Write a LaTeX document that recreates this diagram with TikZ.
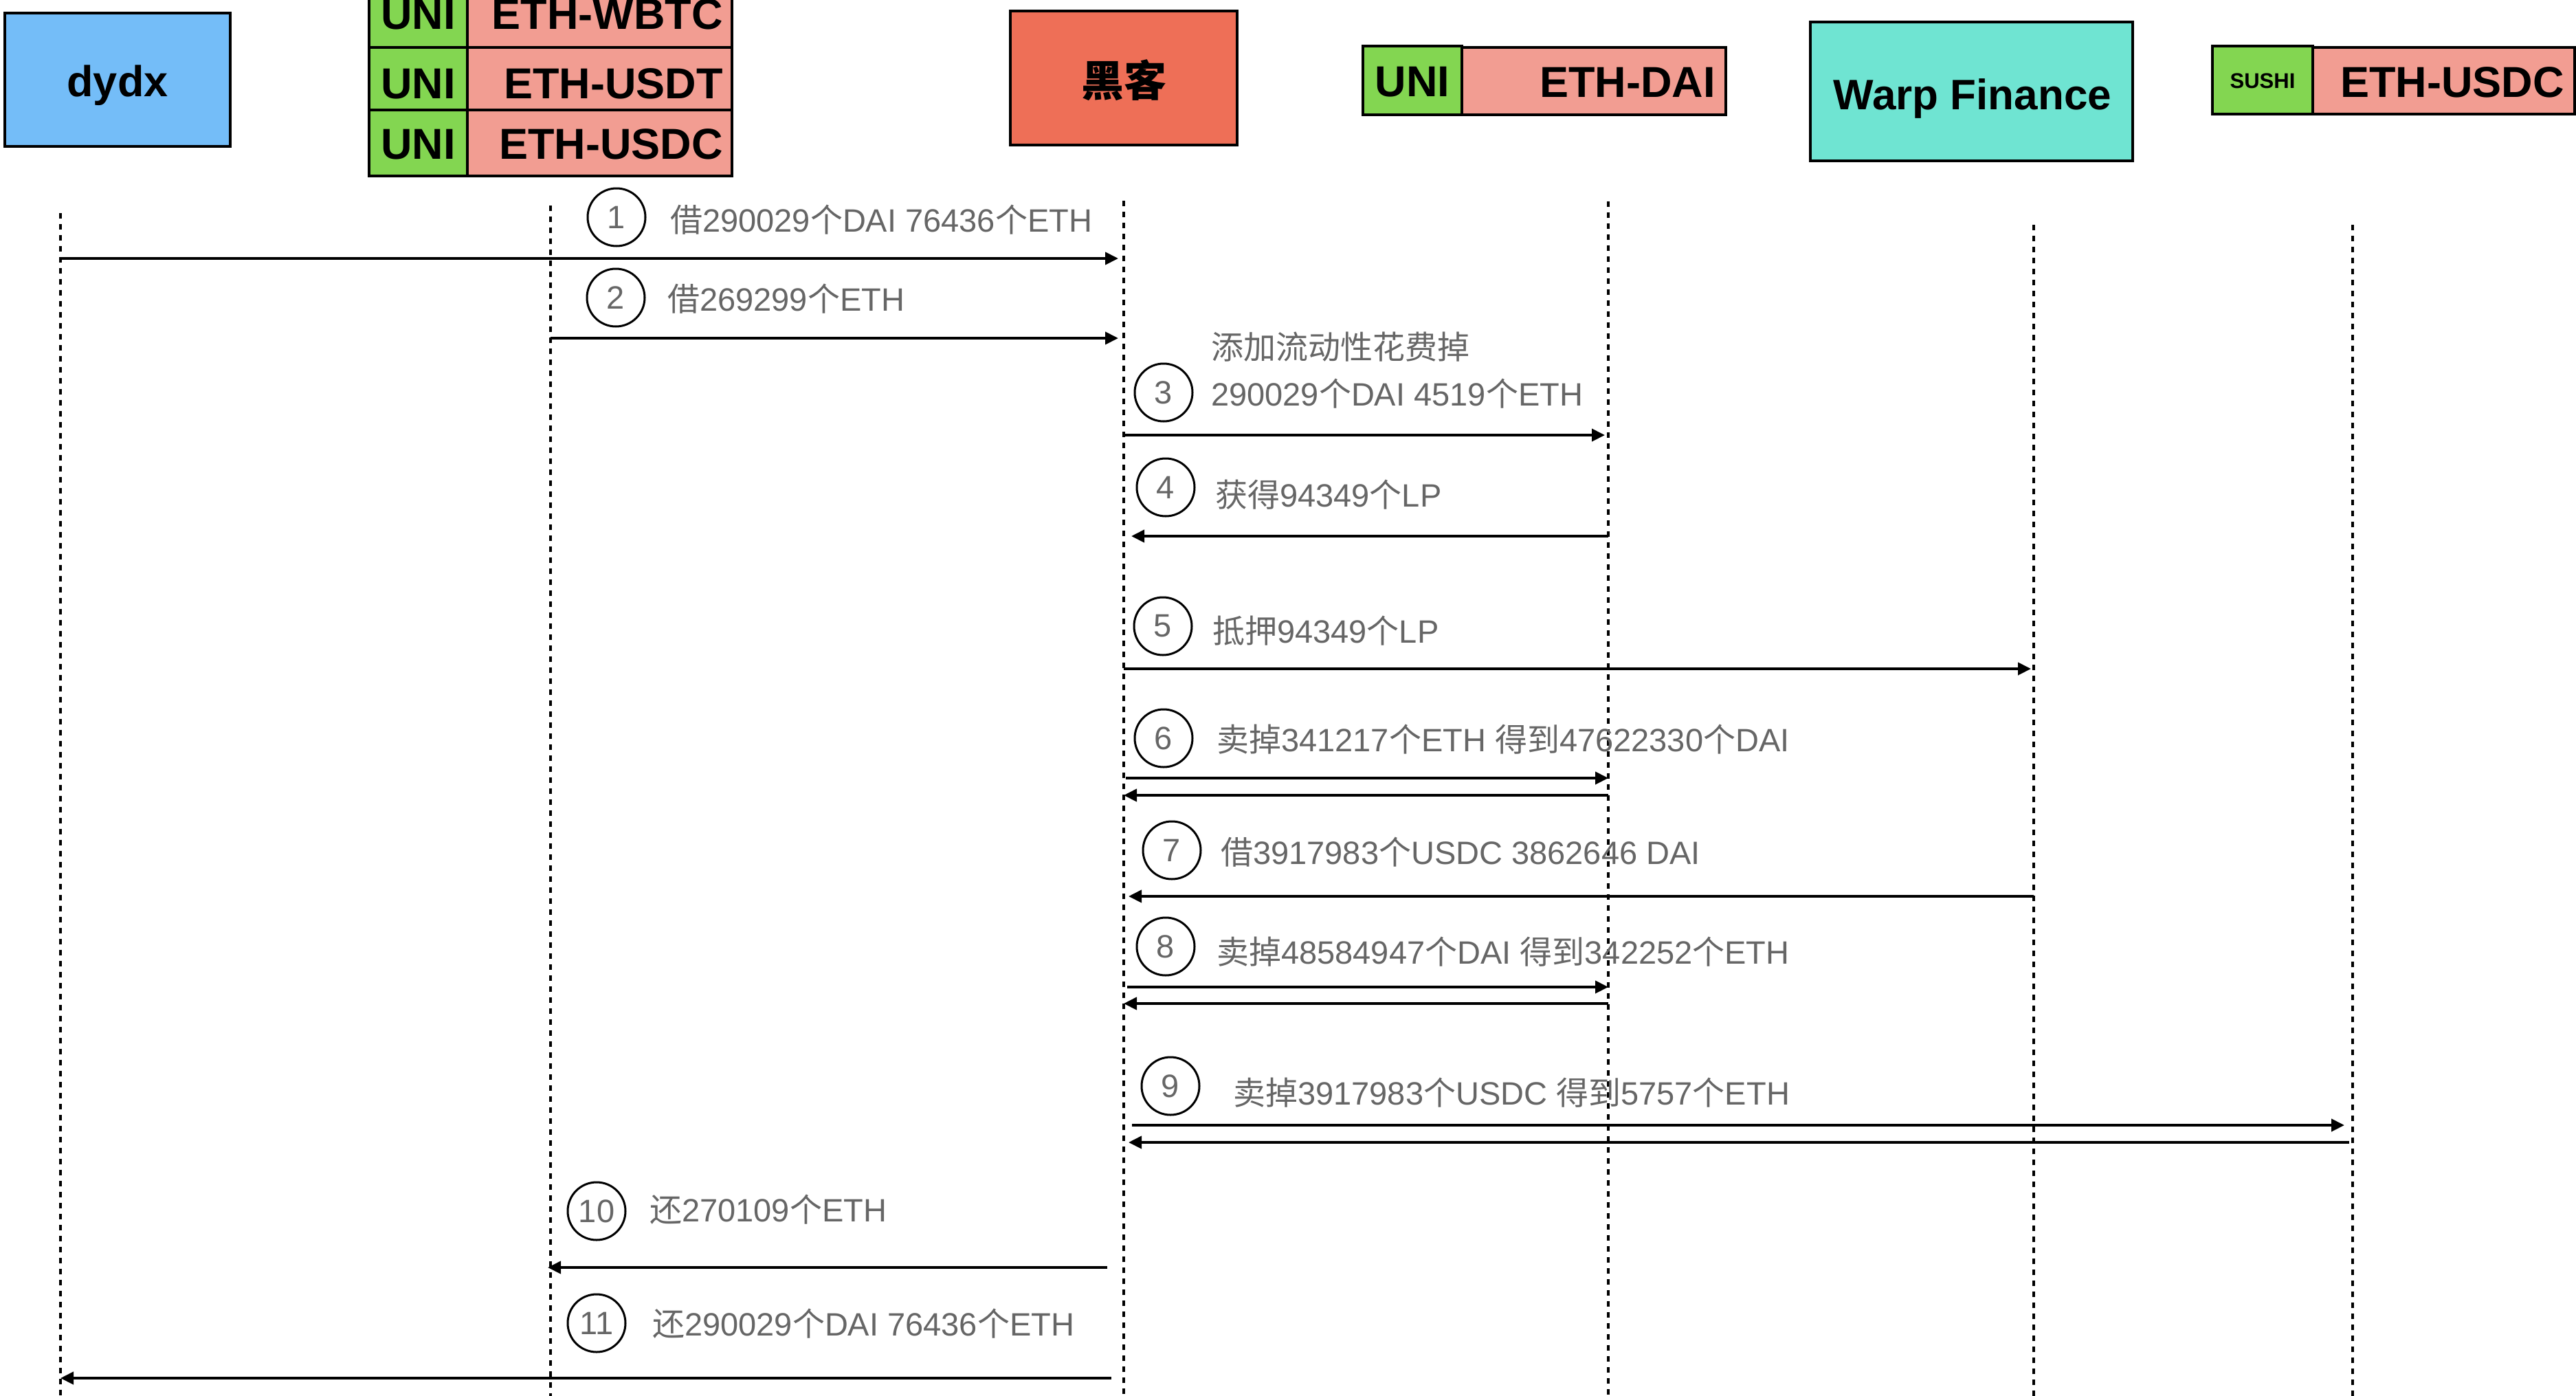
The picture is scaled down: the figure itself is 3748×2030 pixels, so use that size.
\documentclass[tikz,border=0pt]{standalone}
\usepackage{fontspec}
\setmainfont{Liberation Sans}
\newfontfamily\cjk{Noto Sans CJK SC}
\usetikzlibrary{arrows.meta,calc}
\definecolor{dydxblue}{HTML}{74BDF8}
\definecolor{hackred}{HTML}{EE6F57}
\definecolor{unigreen}{HTML}{83D651}
\definecolor{pairpink}{HTML}{F29D92}
\definecolor{warpteal}{HTML}{6FE4D2}
\definecolor{labelgray}{HTML}{666666}
\newcommand\zh[1]{{\cjk #1}}
\begin{document}
\begin{tikzpicture}[x=1pt,y=-1pt,
  box/.style={draw=black, line width=4.5pt, inner sep=0pt},
  boxtext/.style={font=\fontsize{63}{70}\selectfont\bfseries, text=black, inner sep=0pt},
  smalltext/.style={font=\fontsize{31}{36}\selectfont\bfseries, text=black, inner sep=0pt},
  life/.style={draw=black, line width=3.5pt, dash pattern=on 8pt off 8pt},
  msg/.style={draw=black, line width=4pt, -{Triangle[length=19pt,width=18pt]}},
  num/.style={circle, draw=black, line width=3pt, minimum size=84pt, inner sep=0pt, text=labelgray, font=\fontsize{47}{50}\selectfont},
  lbl/.style={anchor=base west, inner sep=0pt, text=labelgray, font=\fontsize{47}{56}\selectfont}]
\useasboundingbox (0,0) rectangle (3748,2030);
\clip (0,0) rectangle (3748,2030);

% ---------- participant boxes ----------
\node[box, fill=dydxblue, minimum width=328pt, minimum height=194pt] (dydx) at (171,116) {};
\node[boxtext, anchor=base] (dydxt) at (171,140) {dydx};

% UNI stack
\node[box, fill=unigreen, minimum width=143pt, minimum height=91pt] (u1) at (608.5,23.5) {};
\node[box, fill=pairpink, minimum width=385pt, minimum height=91pt] (p1) at (872.5,23.5) {};
\node[box, fill=unigreen, minimum width=143pt, minimum height=91pt] (u2) at (608.5,114.5) {};
\node[box, fill=pairpink, minimum width=385pt, minimum height=91pt] (p2) at (872.5,114.5) {};
\node[box, fill=unigreen, minimum width=143pt, minimum height=96pt] (u3) at (608.5,208) {};
\node[box, fill=pairpink, minimum width=385pt, minimum height=96pt] (p3) at (872.5,208) {};
\node[boxtext] (u1t) at (608.5,21) {UNI};
\node[boxtext, anchor=east] (p1t) at (1052,21) {ETH-WBTC};
\node[boxtext] (u2t) at (608.5,122) {UNI};
\node[boxtext, anchor=east] (p2t) at (1052,122) {ETH-USDT};
\node[boxtext] (u3t) at (608.5,210) {UNI};
\node[boxtext, anchor=east] (p3t) at (1052,210) {ETH-USDC};

% hacker
\node[box, fill=hackred, minimum width=330pt, minimum height=195pt] (hack) at (1635,113.5) {};
\node[boxtext, font=\fontsize{62}{70}\selectfont\cjk\bfseries] (hackt) at (1635,117) {黑客};

% UNI ETH-DAI
\node[box, fill=unigreen, minimum width=144pt, minimum height=100pt] (ud) at (2055,117) {};
\node[box, fill=pairpink, minimum width=384pt, minimum height=98pt] (pd) at (2319,118) {};
\node[boxtext] (udt) at (2055,119) {UNI};
\node[boxtext, anchor=east] (pdt) at (2496,120) {ETH-DAI};

% Warp Finance
\node[box, fill=warpteal, minimum width=469pt, minimum height=202pt] (warp) at (2868.5,133) {};
\node[boxtext, font=\fontsize{62}{70}\selectfont\bfseries, anchor=base] (warpt) at (2870,159) {Warp Finance};

% SUSHI ETH-USDC
\node[box, fill=unigreen, minimum width=146pt, minimum height=99pt] (us) at (3292,116.5) {};
\node[box, fill=pairpink, minimum width=381pt, minimum height=97pt] (ps) at (3555.5,117.5) {};
\node[smalltext] (ust) at (3292,118) {SUSHI};
\node[boxtext, anchor=east] (pst) at (3731,120) {ETH-USDC};

% ---------- lifelines ----------
\coordinate (L1) at (88,310);
\coordinate (L2) at (801,299);
\coordinate (L3) at (1635,292);
\coordinate (L4) at (2340,293);
\coordinate (L5) at (2959,327);
\coordinate (L6) at (3423,327);
\coordinate (bot) at (0,2035);
\foreach \l in {L1,L2,L3,L4,L5,L6}{
  \draw[life] (\l) -- (\l |- bot);
}

% ---------- message rows ----------
\coordinate (m1) at (0,376);
\coordinate (m2) at (0,492);
\coordinate (m3) at (0,633);
\coordinate (m4) at (0,780);
\coordinate (m5) at (0,973);
\coordinate (m6a) at (0,1132);
\coordinate (m6b) at (0,1157);
\coordinate (m7) at (0,1304);
\coordinate (m8a) at (0,1436);
\coordinate (m8b) at (0,1460);
\coordinate (m9a) at (0,1637);
\coordinate (m9b) at (0,1662);
\coordinate (m10) at (0,1844);
\coordinate (m11) at (0,2005);

\draw[msg, shorten >=8pt] (L1 |- m1) -- (L3 |- m1);
\draw[msg, shorten >=8pt] (L2 |- m2) -- (L3 |- m2);
\draw[msg, shorten >=5pt] (L3 |- m3) -- (L4 |- m3);
\draw[msg, shorten >=11pt] (L4 |- m4) -- (L3 |- m4);
\draw[msg, shorten >=4pt] (L3 |- m5) -- (L5 |- m5);
\draw[msg, shorten <=3pt] (L3 |- m6a) -- (L4 |- m6a);
\draw[msg] (L4 |- m6b) -- (L3 |- m6b);
\draw[msg, shorten >=7pt] (L5 |- m7) -- (L3 |- m7);
\draw[msg, shorten <=5pt] (L3 |- m8a) -- (L4 |- m8a);
\draw[msg] (L4 |- m8b) -- (L3 |- m8b);
\draw[msg, shorten <=12pt, shorten >=12pt] (L3 |- m9a) -- (L6 |- m9a);
\draw[msg, shorten <=5pt, shorten >=7pt] (L6 |- m9b) -- (L3 |- m9b);
\draw[msg, shorten <=24pt, shorten >=-4pt] (L3 |- m10) -- (L2 |- m10);
\draw[msg, shorten <=18pt] (L3 |- m11) -- (L1 |- m11);

% ---------- numbered circles ----------
\node[num] (n1) at (897,316) {1};
\node[num] (n2) at (896,433) {2};
\node[num] (n3) at (1693,571) {3};
\node[num] (n4) at (1696,709) {4};
\node[num] (n5) at (1692,911) {5};
\node[num] (n6) at (1693,1074) {6};
\node[num] (n7) at (1705,1237) {7};
\node[num] (n8) at (1696,1377) {8};
\node[num] (n9) at (1703,1580) {9};
\node[num] (n10) at (868,1762) {10};
\node[num] (n11) at (868,1925) {11};

% ---------- labels ----------
\node[lbl] (t1) at (975,337) {\zh{借}290029\zh{个}DAI 76436\zh{个}ETH};
\node[lbl] (t2) at (971,452) {\zh{借}269299\zh{个}ETH};
\node[lbl] (t3a) at (1762,522) {\zh{添加流动性花费掉}};
\node[lbl] (t3b) at (1762,590) {290029\zh{个}DAI 4519\zh{个}ETH};
\node[lbl] (t4) at (1768,737) {\zh{获得}94349\zh{个}LP};
\node[lbl] (t5) at (1764,935) {\zh{抵押}94349\zh{个}LP};
\node[lbl] (t6) at (1770,1093) {\zh{卖掉}341217\zh{个}ETH \zh{得到}47622330\zh{个}DAI};
\node[lbl] (t7) at (1776,1257) {\zh{借}3917983\zh{个}USDC 3862646 DAI};
\node[lbl] (t8) at (1770,1402) {\zh{卖掉}48584947\zh{个}DAI \zh{得到}342252\zh{个}ETH};
\node[lbl] (t9) at (1794,1607) {\zh{卖掉}3917983\zh{个}USDC \zh{得到}5757\zh{个}ETH};
\node[lbl] (t10) at (945,1777) {\zh{还}270109\zh{个}ETH};
\node[lbl] (t11) at (949,1943) {\zh{还}290029\zh{个}DAI 76436\zh{个}ETH};
\end{tikzpicture}
\end{document}
